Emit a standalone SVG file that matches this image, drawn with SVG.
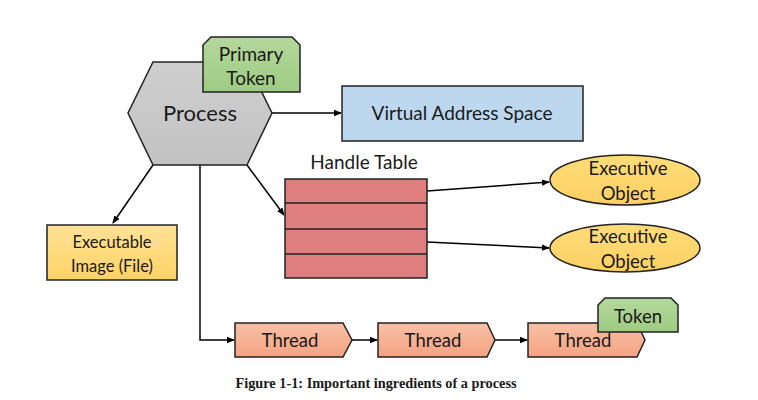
<svg xmlns="http://www.w3.org/2000/svg" width="758" height="400" viewBox="0 0 758 400">
<style>
.t{font-family:Lato,"Open Sans","Liberation Sans",sans-serif;fill:#1a1a1a;text-anchor:middle}
.s{stroke:#222;stroke-width:1.5}
.c{stroke:#000;stroke-width:1.5;fill:none}
</style>
<defs>
<marker id="ah" markerWidth="8" markerHeight="8" refX="7" refY="4" orient="auto" markerUnits="userSpaceOnUse"><path d="M0,0.8 L8,4 L0,7.2 Z" fill="#000"/></marker>
<linearGradient id="gHex" x1="0" y1="0" x2="0" y2="1"><stop offset="0" stop-color="#cfcfcf"/><stop offset="1" stop-color="#c2c2c2"/></linearGradient>
<linearGradient id="gGreen" x1="0" y1="0" x2="0" y2="1"><stop offset="0" stop-color="#b4d89c"/><stop offset="1" stop-color="#9ecb82"/></linearGradient>
<linearGradient id="gYel" x1="0" y1="0" x2="0" y2="1"><stop offset="0" stop-color="#ffe298"/><stop offset="1" stop-color="#ffd264"/></linearGradient>
<linearGradient id="gThr" x1="0" y1="0" x2="0" y2="1"><stop offset="0" stop-color="#f8c0a6"/><stop offset="1" stop-color="#f4a382"/></linearGradient>
<linearGradient id="gEll" x1="0" y1="0" x2="0" y2="1"><stop offset="0" stop-color="#ffdc7a"/><stop offset="1" stop-color="#fbd062"/></linearGradient>
</defs>
<g id="connectors">
<line class="c" x1="272" y1="113" x2="341" y2="113" marker-end="url(#ah)"/>
<line class="c" x1="247" y1="165" x2="284" y2="215" marker-end="url(#ah)"/>
<line class="c" x1="153" y1="165" x2="113" y2="223" marker-end="url(#ah)"/>
<polyline class="c" points="200,165 200,340 234,340" marker-end="url(#ah)"/>
<line class="c" x1="352" y1="340" x2="377" y2="340" marker-end="url(#ah)"/>
<line class="c" x1="495" y1="340" x2="527" y2="340" marker-end="url(#ah)"/>
<line class="c" x1="427" y1="191" x2="549" y2="182" marker-end="url(#ah)"/>
<line class="c" x1="427" y1="242" x2="549" y2="248" marker-end="url(#ah)"/>
</g>
<g id="process">
<polygon class="s" fill="url(#gHex)" points="153,62 247,62 272,113 247,165 153,165 128,113"/>
<text class="t" x="200" y="121" font-size="22">Process</text>
</g>
<g id="primary-token">
<path class="s" fill="url(#gGreen)" d="M211,37 H292 L300,45 V92 H203 V45 Z"/>
<text class="t" x="251" y="61" font-size="19">Primary</text>
<text class="t" x="251" y="85" font-size="19">Token</text>
</g>
<g id="vas">
<rect class="s" x="342" y="86" width="241" height="55" fill="#bdd7ee"/>
<text class="t" x="462" y="120" font-size="19">Virtual Address Space</text>
</g>
<g id="handle-table">
<text class="t" x="364" y="169" font-size="19">Handle Table</text>
<rect class="s" x="285" y="179" width="142" height="99" fill="#df7e7e"/>
<line class="s" x1="285" y1="203" x2="427" y2="203"/>
<line class="s" x1="285" y1="229" x2="427" y2="229"/>
<line class="s" x1="285" y1="254" x2="427" y2="254"/>
</g>
<g id="exec-object-1">
<ellipse class="s" cx="625" cy="180" rx="75" ry="25" fill="url(#gEll)"/>
<text class="t" x="628" y="175" font-size="18.5">Executive</text>
<text class="t" x="628" y="200" font-size="18.5">Object</text>
</g>
<g id="exec-object-2">
<ellipse class="s" cx="625" cy="248" rx="75" ry="24" fill="url(#gEll)"/>
<text class="t" x="628" y="243" font-size="18.5">Executive</text>
<text class="t" x="628" y="268" font-size="18.5">Object</text>
</g>
<g id="exec-image">
<rect class="s" x="47" y="225" width="130" height="55" fill="url(#gYel)"/>
<text class="t" x="112" y="248" font-size="16.5">Executable</text>
<text class="t" x="112" y="272" font-size="16.5">Image (File)</text>
</g>
<g id="thread-1">
<polygon class="s" fill="url(#gThr)" points="235,323 343,323 352,340 343,357 235,357"/>
<text class="t" x="290" y="347" font-size="18.5">Thread</text>
</g>
<g id="thread-2">
<polygon class="s" fill="url(#gThr)" points="378,323 487,323 495,340 487,357 378,357"/>
<text class="t" x="433" y="347" font-size="18.5">Thread</text>
</g>
<g id="thread-3">
<polygon class="s" fill="url(#gThr)" points="528,323 637,323 645,340 637,357 528,357"/>
<text class="t" x="583" y="347" font-size="18.5">Thread</text>
</g>
<g id="token">
<path class="s" fill="url(#gGreen)" d="M605,298 H671 L678,305 V332 H598 V305 Z"/>
<text class="t" x="638" y="323" font-size="18.5">Token</text>
</g>
<text x="376" y="388" font-family="'Liberation Serif',serif" font-weight="bold" font-size="14.3" fill="#1a1a1a" text-anchor="middle">Figure 1-1: Important ingredients of a process</text>
</svg>
